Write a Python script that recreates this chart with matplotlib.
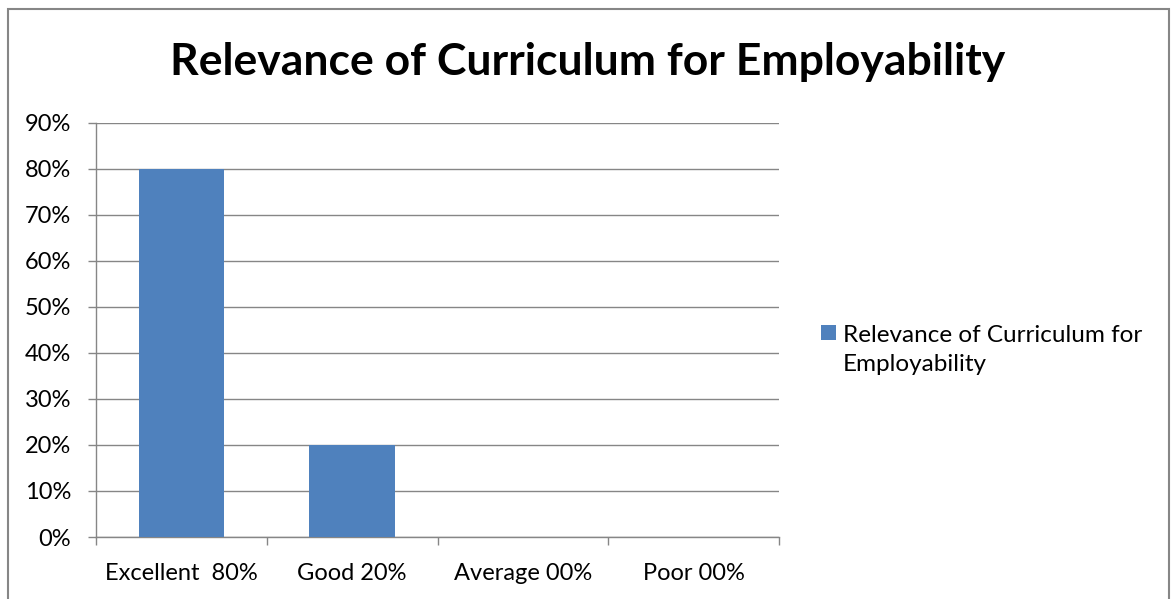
import matplotlib.pyplot as plt
from matplotlib.patches import Rectangle
from matplotlib.ticker import FixedLocator, PercentFormatter

# data
categories = ['Excellent  80%', 'Good 20%', 'Average 00%', 'Poor 00%']
values = [0.80, 0.20, 0.00, 0.00]
series_name = 'Relevance of Curriculum for\nEmployability'
title = 'Relevance of Curriculum for Employability'

W, H = 1171, 599
bar_color = '#4F81BD'
grid_color = '#868686'

plt.rcParams['font.family'] = ['Lato', 'DejaVu Sans']

fig = plt.figure(figsize=(W / 100, H / 100), dpi=100)
fig.patches.append(Rectangle((8 / W, -0.1), (1169 - 8) / W, 1.1 - 9 / H,
                             transform=fig.transFigure, fill=False,
                             edgecolor=grid_color, linewidth=1.5))

ax = fig.add_axes([96 / W, 1 - 537 / H, (779 - 96) / W, (537 - 122.7) / H])
x = list(range(len(categories)))
ax.bar(x, values, width=0.5, color=bar_color, zorder=3)

ax.set_xlim(-0.5, len(categories) - 0.5)
ax.set_ylim(0, 0.9)
ax.set_yticks([i / 10 for i in range(10)])
ax.yaxis.set_major_formatter(PercentFormatter(1.0, decimals=0))
ax.grid(axis='y', color=grid_color, linewidth=1, zorder=0)

# category boundaries get the tick marks, centres get the labels
ax.xaxis.set_major_locator(FixedLocator([i - 0.5 for i in range(len(categories) + 1)]))
ax.xaxis.set_minor_locator(FixedLocator(x))
ax.set_xticklabels([])
ax.set_xticklabels(categories, minor=True)
ax.tick_params(axis='x', which='major', length=6, color=grid_color, width=1)
ax.tick_params(axis='x', which='minor', length=0, pad=19, labelsize=17)
ax.tick_params(axis='y', length=6, color=grid_color, width=1, labelsize=17, pad=12)

for s in ['top', 'right']:
    ax.spines[s].set_visible(False)
for s in ['left', 'bottom']:
    ax.spines[s].set_color(grid_color)
    ax.spines[s].set_linewidth(1)

fig.text(588 / W, 1 - 62 / H, title, ha='center', va='center',
         fontsize=32, fontweight='bold')

# legend: square marker with wrapped label
fig.patches.append(Rectangle((821 / W, 1 - 340 / H), 15 / W, 15 / H,
                             transform=fig.transFigure, facecolor=bar_color,
                             edgecolor='none'))
fig.text(843 / W, 1 - 350 / H, series_name, ha='left', va='center',
         fontsize=17.5, linespacing=1.5)

fig.savefig('out.png', dpi=100)
